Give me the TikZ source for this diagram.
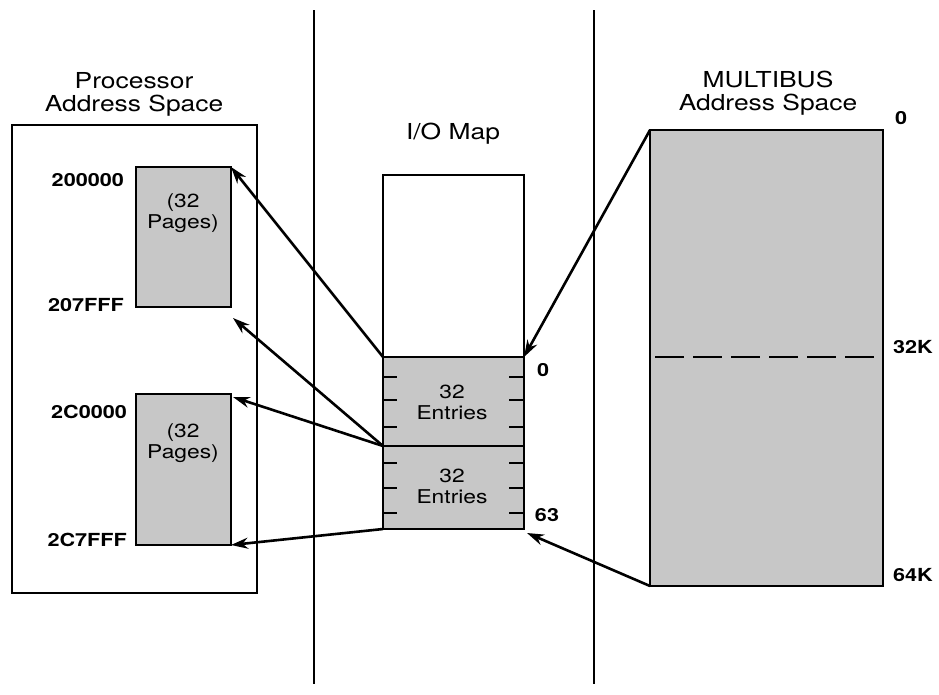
\documentclass[tikz,border=0pt]{standalone}
\usepackage{fontspec}
\setmainfont[FakeStretch=1.2]{TeX Gyre Heros}
\usetikzlibrary{arrows.meta,calc}
\begin{document}
\begin{tikzpicture}[x=1pt,y=-1pt,
  frame/.style={draw,line width=2.8pt,rectangle,inner sep=0pt,outer sep=0pt},
  shade/.style={frame,fill=black!22},
  arr/.style={line width=2.6pt,-{Stealth[length=17pt,width=11pt]}},
  tick/.style={line width=2.2pt},
  ttl/.style={font=\fontsize{22}{23}\selectfont,align=center,inner sep=0pt},
  lbl/.style={font=\fontsize{18}{20}\selectfont\bfseries,inner sep=0pt},
  inl/.style={font=\fontsize{19}{21}\selectfont,align=center,inner sep=0pt}]
\useasboundingbox[fill=white] (0,0) rectangle (939,694);
% separators
\coordinate (s1t) at (314,10); \coordinate (s1b) at (314,684);
\coordinate (s2t) at (594,10); \coordinate (s2b) at (594,684);
\draw[line width=2.8pt] (s1t) -- (s1b);
\draw[line width=2.8pt] (s2t) -- (s2b);
% processor address space
\node[frame,minimum width=245pt,minimum height=468pt] (pa) at (134.5,359) {};
\node[ttl] (pat) at (134,94) {Processor\\Address Space};
\node[shade,minimum width=95pt,minimum height=140pt] (up) at (183.5,237) {};
\node[shade,minimum width=95pt,minimum height=151pt] (lo) at (183.5,469.5) {};
\node[inl] (upt) at (183,213) {(32\\Pages)};
\node[inl] (lot) at (183,443) {(32\\Pages)};
\node[lbl,anchor=east] (a1) at (124,180) {200000};
\node[lbl,anchor=east] (a2) at (124,305) {207FFF};
\node[lbl,anchor=east] (a3) at (127,412) {2C0000};
\node[lbl,anchor=east] (a4) at (127,540) {2C7FFF};
% I/O map
\node[ttl] (iot) at (453,134) {I/O Map};
\node[frame,minimum width=141pt,minimum height=182pt] (io) at (453.5,266) {};
\node[shade,minimum width=141pt,minimum height=89pt] (e1) at (453.5,401.5) {};
\node[shade,minimum width=141pt,minimum height=83pt] (e2) at (453.5,487.5) {};
\node[inl] (e1t) at (452,402) {32\\Entries};
\node[inl] (e2t) at (452,486) {32\\Entries};
\foreach \y in {377,400,427,463,488,513}{
  \draw[tick] (383,\y) -- (397,\y);
  \draw[tick] (509,\y) -- (524,\y);
}
\node[lbl] (n0) at (543,370) {0};
\node[lbl] (n63) at (547,515) {63};
% multibus
\node[ttl] (mbt) at (768,93) {MULTIBUS\\Address Space};
\node[shade,minimum width=233pt,minimum height=456pt] (mb) at (766.5,358) {};
\draw[line width=2.4pt,dash pattern=on 29pt off 9pt] ($(mb.west)+(5,-1)$) -- ($(mb.east)+(-3,-1)$);
\node[lbl] (m0) at (901,118) {0};
\node[lbl] (m32) at (913,347) {32K};
\node[lbl] (m64) at (913,575) {64K};
% arrows
\coordinate (t2) at ($(up.south east)+(2,11)$);
\coordinate (t3) at ($(lo.north east)+(2,3)$);
\coordinate (t6) at ($(e2.south east)+(3,4)$);
\draw[arr] (e1.north west) -- (up.north east);
\draw[arr] (e1.south west) -- (t2);
\draw[arr] (e1.south west) -- (t3);
\draw[arr] (e2.south west) -- (lo.south east);
\draw[arr] (mb.north west) -- (e1.north east);
\draw[arr] (mb.south west) -- (t6);
\end{tikzpicture}
\end{document}
